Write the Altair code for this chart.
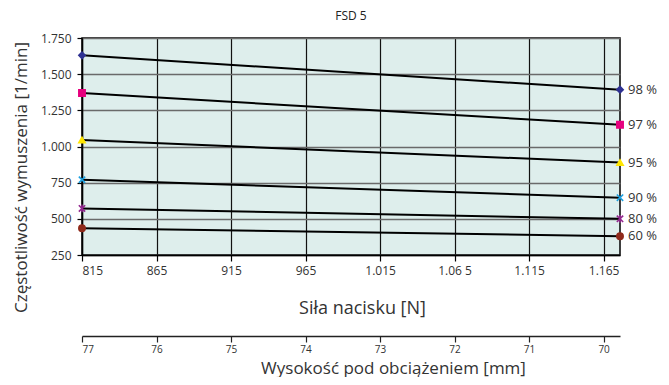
import altair as alt
import pandas as pd

# ---- data ----
series = ["98 %", "97 %", "95 %", "90 %", "80 %", "60 %"]
force_ends = [815, 1176]                     # Siła nacisku [N] at both ends
rpm_start = [1630, 1370, 1045, 770, 572, 435]
rpm_end = [1393, 1150, 889, 646, 500, 380]
force_ticks = [815, 865, 915, 965, 1015, 1065, 1115, 1165]
rpm_ticks = [250, 500, 750, 1000, 1250, 1500, 1750]
mm_ticks = [77, 76, 75, 74, 73, 72, 71, 70]
mm_domain = [77, 69.78]

colors = ["#2e3192", "#e6007e", "#ffe600", "#1ba1e2", "#93278f", "#8f2a1b"]
shapes = ["diamond", "square", "triangle-up",
          "M-1,-1L1,1M-1,1L1,-1",
          "M-1,-1L1,1M-1,1L1,-1M0,-1.2L0,1.2",
          "circle"]

rows = []
for s, a, b in zip(series, rpm_start, rpm_end):
    rows.append({"series": s, "force": force_ends[0], "rpm": a})
    rows.append({"series": s, "force": force_ends[1], "rpm": b})
df = pd.DataFrame(rows)
df_end = df[df["force"] == force_ends[1]]

FONT = "Open Sans"
TXT = "#333333"

x_enc = alt.X(
    "force:Q",
    scale=alt.Scale(domain=force_ends, nice=False, zero=False),
    axis=alt.Axis(
        values=force_ticks, tickCount=len(force_ticks), labelOverlap=False,
        labelExpr="datum.value == 1065 ? '1.06 5' : replace(format(datum.value, ','), ',', '.')",
        grid=True, gridColor="#111111", gridWidth=1.2,
        domain=True, domainColor="black", domainWidth=1.5,
        ticks=True, tickColor="black", tickSize=6, tickWidth=1.2,
        labelPadding=4, labelFontSize=12, labelFont=FONT, labelColor=TXT,
        title="Siła nacisku [N]", titleFont=FONT, titleFontSize=18,
        titleFontWeight="normal", titleColor=TXT,
        titleX=280, titleY=53, titleAlign="center", titleBaseline="middle",
    ),
)
y_enc = alt.Y(
    "rpm:Q",
    scale=alt.Scale(domain=[250, 1750], nice=False, zero=False),
    axis=alt.Axis(
        values=rpm_ticks, tickCount=len(rpm_ticks), labelOverlap=False,
        labelExpr="replace(format(datum.value, ','), ',', '.')",
        grid=True, gridColor="#6a6a6a", gridWidth=1.5,
        domain=True, domainColor="black", domainWidth=1.5,
        ticks=True, tickColor="black", tickSize=5, tickWidth=1.2,
        labelPadding=6, labelFontSize=12, labelFont=FONT, labelColor=TXT,
        title="Częstotliwość wymuszenia [1/min]", titleFont=FONT,
        titleFontSize=17, titleFontWeight="normal", titleColor=TXT,
        titleX=-52, titleY=139, titleAngle=-90, titleAlign="center",
        titleBaseline="bottom",
    ),
)

lines = alt.Chart(df).mark_line(color="black", strokeWidth=2).encode(
    x=x_enc, y=y_enc, detail="series:N"
)

col_scale = alt.Scale(domain=series, range=colors)
points = alt.Chart(df).mark_point(size=40, strokeWidth=1.6, opacity=1).encode(
    x=alt.X("force:Q"),
    y=alt.Y("rpm:Q"),
    fill=alt.Fill("series:N", scale=col_scale, legend=None),
    stroke=alt.Stroke("series:N", scale=col_scale, legend=None),
    shape=alt.Shape("series:N", scale=alt.Scale(domain=series, range=shapes), legend=None),
)

labels = alt.Chart(df_end).mark_text(
    align="left", baseline="middle", dx=8, fontSize=13, font=FONT, color=TXT
).encode(x=alt.X("force:Q"), y=alt.Y("rpm:Q"), text="series:N")

main = alt.layer(lines, points, labels)

second = alt.Chart(pd.DataFrame({"mm": mm_ticks})).mark_point(opacity=0).encode(
    x=alt.X(
        "mm:Q",
        scale=alt.Scale(domain=mm_domain, nice=False, zero=False),
        axis=alt.Axis(
            orient="bottom", offset=81, values=mm_ticks, tickCount=len(mm_ticks),
            format="d", labelOverlap=False,
            grid=False, domain=True, domainColor="#222222", domainWidth=1.5,
            ticks=True, tickColor="#222222", tickSize=6, tickWidth=1.2,
            labelPadding=2, labelFontSize=10, labelFont=FONT, labelColor=TXT,
            title="Wysokość pod obciążeniem [mm]", titleFont=FONT,
            titleFontSize=17, titleFontWeight="normal", titleColor=TXT,
            titleX=311, titleY=32, titleAlign="center", titleBaseline="middle",
        ),
    )
)

chart = (
    alt.layer(main, second)
    .resolve_scale(x="independent")
    .properties(
        width=538,
        height=217,
        title=alt.TitleParams("FSD 5", fontSize=12, font=FONT, color="#222222",
                              fontWeight="normal", offset=9, anchor="middle"),
        padding={"left": 74, "top": 30, "right": 41, "bottom": 122},
        autosize=alt.AutoSizeParams(type="none"),
        background="white",
    )
    .configure_view(fill="#deeeec", stroke="black", strokeWidth=1.5)
)

chart.save("out.html", embed_options={"renderer": "svg", "actions": False})
